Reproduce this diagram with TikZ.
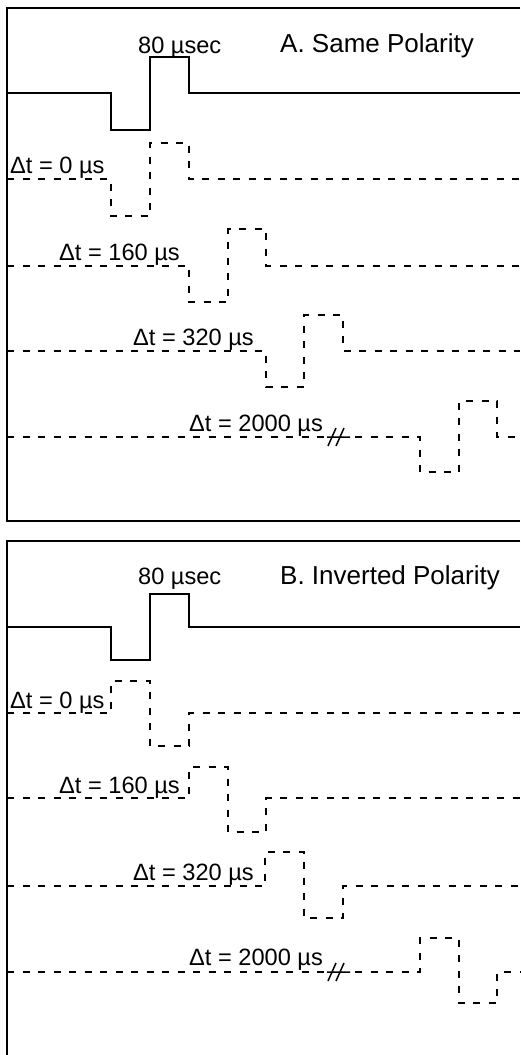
\documentclass[tikz,border=0pt]{standalone}
\usepackage{fontspec}
\setmainfont{Liberation Sans}
\begin{document}
\begin{tikzpicture}[x=1pt,y=-1pt,
  frame/.style={line width=1.4pt,line join=miter},
  solidtrace/.style={line width=1.4pt,line join=miter},
  dashtrace/.style={line width=1.3pt,dash pattern=on 7pt off 8.5pt},
  brk/.style={line width=1.5pt},
  lbl/.style={anchor=base west,inner sep=0pt,font=\fontsize{23.6}{28}\selectfont},
  ttl/.style={anchor=base west,inner sep=0pt,font=\fontsize{26}{31}\selectfont}]
\useasboundingbox (0,0) rectangle (520,1055);
% ---------- Panel A ----------
\draw[frame] (520,8) -- (7,8) -- (7,521) -- (520,521);
\node[ttl] (titleA) at (280,52) {A. Same Polarity};
\node[lbl] (widthA) at (138,53) {80 µsec};
\draw[solidtrace] (7,93) -- (111,93) -- (111,130) -- (150,130) -- (150,57) -- (189,57) -- (189,93) -- (520,93);
\node[lbl] (a0) at (10,173) {Δt = 0 µs};
\draw[dashtrace] (7,179) -- (111,179) -- (111,216) -- (150,216) -- (150,143) -- (189,143) -- (189,179) -- (520,179);
\node[lbl] (a160) at (59,260) {Δt = 160 µs};
\draw[dashtrace] (7,266) -- (189,266) -- (189,302) -- (228,302) -- (228,229) -- (266,229) -- (266,266) -- (520,266);
\node[lbl] (a320) at (133,345) {Δt = 320 µs};
\draw[dashtrace] (7,351) -- (266,351) -- (266,387) -- (304,387) -- (304,315) -- (343,315) -- (343,351) -- (520,351);
\node[lbl] (a2000) at (189,431) {Δt = 2000 µs};
\draw[dashtrace] (7,437) -- (324,437);
\draw[brk] (327,437) -- (350,437) (328,446) -- (336,428) (336,446) -- (344,428);
\draw[dashtrace] (355,437) -- (420,437) -- (420,472) -- (459,472) -- (459,401) -- (497,401) -- (497,437) -- (520,437);
% ---------- Panel B ----------
\draw[frame] (520,541) -- (7,541) -- (7,1056);
\node[ttl] (titleB) at (280,584) {B. Inverted Polarity};
\node[lbl] (widthB) at (138,584) {80 µsec};
\draw[solidtrace] (7,627) -- (111,627) -- (111,660) -- (150,660) -- (150,594) -- (189,594) -- (189,627) -- (520,627);
\node[lbl] (b0) at (10,708) {Δt = 0 µs};
\draw[dashtrace] (7,713) -- (111,713) -- (111,681) -- (150,681) -- (150,746) -- (189,746) -- (189,713) -- (520,713);
\node[lbl] (b160) at (59,793) {Δt = 160 µs};
\draw[dashtrace] (7,798) -- (189,798) -- (189,767) -- (228,767) -- (228,832) -- (266,832) -- (266,798) -- (520,798);
\node[lbl] (b320) at (133,880) {Δt = 320 µs};
\draw[dashtrace] (7,886) -- (265,886) -- (265,852) -- (304,852) -- (304,918) -- (343,918) -- (343,886) -- (520,886);
\node[lbl] (b2000) at (189,965) {Δt = 2000 µs};
\draw[dashtrace] (7,972) -- (324,972);
\draw[brk] (327,972) -- (350,972) (328,981) -- (336,963) (336,981) -- (344,963);
\draw[dashtrace] (355,972) -- (420,972) -- (420,938) -- (459,938) -- (459,1003) -- (497,1003) -- (497,972) -- (520,972);
\end{tikzpicture}
\end{document}
